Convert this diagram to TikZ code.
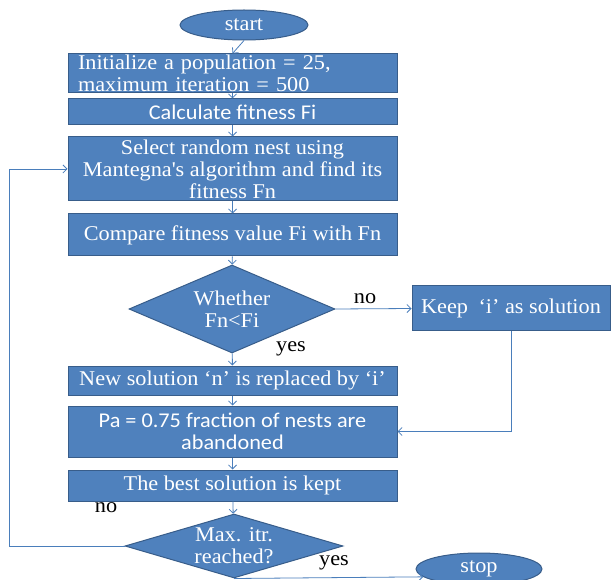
\documentclass[tikz,border=0pt]{standalone}
\usepackage{fontspec}
\setmainfont{Liberation Serif}[FakeStretch=1.06]
\newfontfamily\calfont{Carlito}[FakeStretch=1.06]
\usetikzlibrary{shapes.geometric,arrows.meta}
\definecolor{boxfill}{HTML}{4F81BD}
\definecolor{boxline}{HTML}{385D8A}
\definecolor{arrowc}{HTML}{4A7EBB}
\tikzset{
  base/.style={draw=boxline, line width=1pt, fill=boxfill, text=white, inner sep=0pt,
    font=\fontsize{21}{22}\selectfont, align=center},
  box/.style={base, rectangle, minimum width=329pt},
  dec/.style={base, diamond},
  term/.style={base, ellipse},
  cal/.style={font=\calfont\fontsize{21}{22}\selectfont},
  conn/.style={draw=arrowc, line width=0.8pt, -{Straight Barb[length=4pt,width=8pt]}},
  lab/.style={text=black, inner sep=0pt, font=\fontsize{21}{22}\selectfont}
}
\begin{document}
\begin{tikzpicture}[x=1pt,y=-1pt]
\useasboundingbox (0,0) rectangle (611,580);
\clip (0,0) rectangle (611,580);
\node[term, minimum width=128pt, minimum height=30pt] (start) at (244,25) {start};
\node[box, minimum height=39pt, text width=309pt, align=left] (init) at (232.5,73.5) {Initialize a population = 25,\\maximum iteration = 500};
\node[box, cal, minimum height=26pt] (calc) at (232.5,112) {Calculate fitness Fi};
\node[box, minimum height=64pt] (select) at (232.5,169) {Select random nest using\\Mantegna\textquotesingle s algorithm and find its\\fitness Fn};
\node[box, minimum height=42pt] (compare) at (232.5,235) {Compare fitness value Fi with Fn};
\node[dec, shape aspect=2.34, minimum width=206pt, minimum height=88pt] (d1) at (232,309) {Whether\\Fn<Fi};
\node[base, rectangle, minimum width=198pt, minimum height=45pt] (keep) at (511,308.5) {Keep\enspace ‘i’ as solution};
\node[box, minimum height=29pt] (newsol) at (232.5,380.5) {New solution ‘n’ is replaced by ‘i’};
\node[box, cal, minimum height=51pt] (pa) at (232.5,431.5) {Pa = 0.75 fraction of nests are\\abandoned};
\node[box, minimum height=31pt] (best) at (232.5,485.5) {The best solution is kept};
\node[dec, shape aspect=3.4, minimum width=218pt, minimum height=64pt] (d2) at (234,546) {Max. itr.\\reached?};
\node[term, minimum width=126pt, minimum height=32pt] (stop) at (479,569) {stop};
\coordinate (loop) at (9,546);

\draw[conn] (start.south) -- (init.north);
\draw[conn] (init) -- (calc);
\draw[conn] (calc) -- (select);
\draw[conn] (select) -- (compare);
\draw[conn] (compare) -- (d1);
\draw[conn] (d1) -- (newsol);
\draw[conn] (newsol) -- (pa);
\draw[conn] (pa) -- (best);
\draw[conn] (best) -- (d2);
\draw[conn] (d1.east) -- (keep.west);
\draw[conn] (keep.south) |- (pa.east);
\draw[conn] (d2.west) -- (loop) |- (select.west);
\draw[conn] (d2.south) -- (stop.188);

\node[lab] (lno1) at (365,299) {no};
\node[lab] (lyes1) at (291,349) {yes};
\node[lab] (lno2) at (106,508) {no};
\node[lab] (lyes2) at (334,563) {yes};
\end{tikzpicture}
\end{document}
